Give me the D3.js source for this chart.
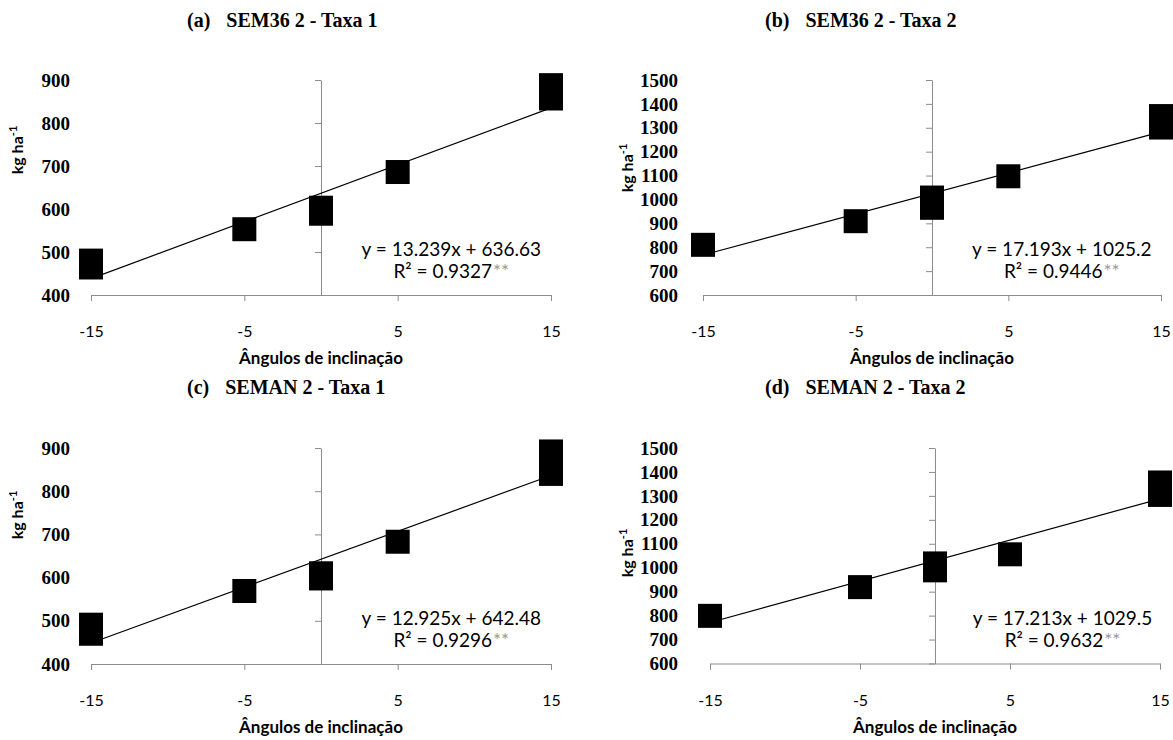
<!DOCTYPE html>
<html>
<head>
<meta charset="utf-8">
<script src="https://cdn.jsdelivr.net/npm/d3@7"></script>
<style>
  body { margin: 0; background: #fff; }
  svg { display: block; }
</style>
</head>
<body>
<svg id="chart" width="1173" height="740"></svg>
<script>
// Angles (x) and yields (kg ha-1), one array per panel
const xTickValues = [-15, -5, 5, 15];

const anglesA = [-15, -15, -5, 0, 0, 5, 15, 15, 15];
const yieldA  = [464, 480, 553, 589, 603, 686, 857, 872, 888];

const anglesB = [-15, -5, 0, 0, 0, 5, 15, 15, 15];
const yieldB  = [810, 909, 965, 987, 1008, 1097, 1301, 1325, 1349];

const anglesC = [-15, -15, -5, 0, 0, 5, 15, 15, 15];
const yieldC  = [470, 491, 569, 598, 610, 683, 840, 866, 892];

const anglesD = [-15, -5, 0, 0, 5, 15, 15, 15];
const yieldD  = [799, 919, 989, 1018, 1056, 1304, 1330, 1356];

// Trendline coefficients and R² shown on each panel
const slopes     = [13.239, 17.193, 12.925, 17.213];
const intercepts = [636.63, 1025.2, 642.48, 1029.5];
const r2Labels   = ["0.9327", "0.9446", "0.9296", "0.9632"];

const titleLetters = ["(a)", "(b)", "(c)", "(d)"];
const titleNames   = ["SEM36 2 - Taxa 1", "SEM36 2 - Taxa 2", "SEMAN 2 - Taxa 1", "SEMAN 2 - Taxa 2"];

const yDomains = [[400, 900], [600, 1500], [400, 900], [600, 1500]];

const svg = d3.select("#chart");
const axisColor = "#8c8c8c";
const sansFont = "Lato, 'Open Sans', sans-serif";
const serifFont = "'Liberation Serif', 'Times New Roman', serif";

// Panel layout (pixel boxes)
const panels = [
  { xs: anglesA, ys: yieldA, x0: 91,  x1: 551,  yb: 295,   yt: 80,  tickRight: 70,  labX: 17,  labY: 150, titleX: 187, titleY: 27 },
  { xs: anglesB, ys: yieldB, x0: 703, x1: 1161, yb: 295,   yt: 80,  tickRight: 678, labX: 627, labY: 168, titleX: 765, titleY: 27 },
  { xs: anglesC, ys: yieldC, x0: 91,  x1: 551,  yb: 664,   yt: 448, tickRight: 70,  labX: 17,  labY: 515, titleX: 187, titleY: 394 },
  { xs: anglesD, ys: yieldD, x0: 710, x1: 1160, yb: 663.5, yt: 448, tickRight: 678, labX: 627, labY: 553, titleX: 765, titleY: 394 }
];

panels.forEach((p, i) => {
  const x = d3.scaleLinear().domain([-15, 15]).range([p.x0, p.x1]);
  const y = d3.scaleLinear().domain(yDomains[i]).range([p.yb, p.yt]);
  const g = svg.append("g");

  // Title
  const title = g.append("text")
    .attr("x", p.titleX).attr("y", p.titleY)
    .attr("font-family", serifFont)
    .attr("font-weight", "bold").attr("font-size", 20);
  title.append("tspan").text(titleLetters[i]);
  title.append("tspan").attr("dx", 16).text(titleNames[i]);

  // Horizontal axis with ticks below
  const xAxis = g.append("g").attr("transform", `translate(0,${p.yb})`)
    .call(d3.axisBottom(x).tickValues(xTickValues).tickSize(6).tickFormat(d => String(d)));
  xAxis.select(".domain").attr("stroke", axisColor);
  xAxis.selectAll(".tick line").attr("stroke", axisColor);
  xAxis.selectAll(".tick text")
    .attr("y", 42).attr("dy", 0)
    .attr("font-family", sansFont).attr("font-size", 16).attr("fill", "#000");

  // Vertical axis crossing at x = 0, ticks to the left
  const yTicks = d3.range(yDomains[i][0], yDomains[i][1] + 1, 100);
  const yAxis = g.append("g").attr("transform", `translate(${x(0)},0)`)
    .call(d3.axisLeft(y).tickValues(yTicks).tickSize(6).tickSizeOuter(0).tickFormat(""));
  yAxis.select(".domain").attr("stroke", axisColor);
  yAxis.selectAll(".tick line").attr("stroke", axisColor);

  // Tick labels at the left edge
  g.selectAll(".ylab").data(yTicks).enter().append("text")
    .attr("x", p.tickRight).attr("y", d => y(d)).attr("dy", "0.35em")
    .attr("text-anchor", "end")
    .attr("font-family", serifFont).attr("font-weight", "bold").attr("font-size", 19)
    .text(d => d);

  // Axis titles
  const yl = g.append("text")
    .attr("transform", `translate(${p.labX + 6},${p.labY}) rotate(-90)`)
    .attr("text-anchor", "middle")
    .attr("font-family", sansFont).attr("font-weight", "bold").attr("font-size", 16);
  yl.append("tspan").text("kg ha");
  yl.append("tspan").attr("dy", -6).attr("font-size", 11).text("-1");

  g.append("text")
    .attr("x", x(0)).attr("y", p.yb + 69)
    .attr("text-anchor", "middle")
    .attr("font-family", sansFont).attr("font-weight", "bold").attr("font-size", 17)
    .text("Ângulos de inclinação");

  // Trendline from the fitted equation
  const fit = v => slopes[i] * v + intercepts[i];
  g.append("line")
    .attr("x1", x(-15)).attr("y1", y(fit(-15)))
    .attr("x2", x(15)).attr("y2", y(fit(15)))
    .attr("stroke", "#000").attr("stroke-width", 1.2);

  // Square markers
  const s = 24;
  g.selectAll(".pt").data(p.xs.map((v, k) => [v, p.ys[k]])).enter().append("rect")
    .attr("x", d => x(d[0]) - s / 2).attr("y", d => y(d[1]) - s / 2)
    .attr("width", s).attr("height", s).attr("fill", "#000");

  // Equation and R²
  const cx = x(8.5);
  g.append("text")
    .attr("x", cx).attr("y", p.yb - 39).attr("text-anchor", "middle")
    .attr("font-family", sansFont).attr("font-size", 19)
    .text(`y = ${slopes[i]}x + ${intercepts[i]}`);
  const r = g.append("text")
    .attr("x", cx).attr("y", p.yb - 17).attr("text-anchor", "middle")
    .attr("font-family", sansFont).attr("font-size", 19);
  r.append("tspan").text("R² = " + r2Labels[i]);
  r.append("tspan").attr("fill", "#999").attr("dx", 1).text("**");
});
</script>
</body>
</html>
